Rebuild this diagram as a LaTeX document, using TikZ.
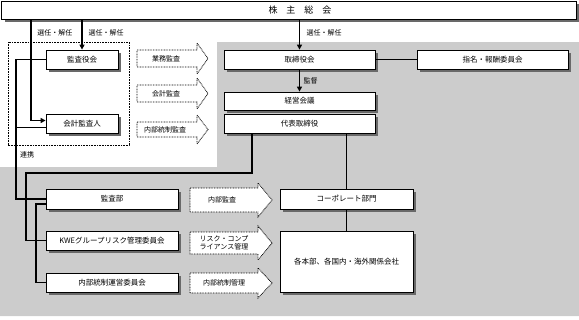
\documentclass[tikz,border=0pt]{standalone}
\usepackage{fontspec}
\setmainfont{Noto Sans CJK JP}
\usetikzlibrary{arrows.meta, shadows}
\definecolor{PanelGray}{RGB}{204,204,204}
\definecolor{ShadowGray}{RGB}{105,105,105}
% dotted block arrow: left x, head x, tip x, top y, bottom y, head extend
\newcommand{\blockarrow}[6]{%
  \draw[dotarr] (#1,#4) -- (#2,#4) -- (#2,#4-#6) -- (#3,{(#4+#5)/2})
    -- (#2,#5+#6) -- (#2,#5) -- (#1,#5) -- cycle;}

\begin{document}
\begin{tikzpicture}[x=1pt,y=-1pt,
    box/.style={draw=black,line width=0.8pt,fill=white,inner sep=1pt,
                font=\fontsize{7.5}{9}\selectfont,
                drop shadow={shadow xshift=3pt,shadow yshift=-3pt,
                             fill=ShadowGray,opacity=1}},
    ln/.style={line width=1.8pt},
    arr/.style={ln,-{Triangle[length=5pt,width=5pt]}},
    dotarr/.style={draw=black,dash pattern=on 0.8pt off 0.8pt,line width=0.8pt,fill=white},
    lbl/.style={font=\fontsize{7}{8.5}\selectfont}
  ]
  \useasboundingbox (0,0) rectangle (579,319);
  % Panels
  \fill[PanelGray] (217,42) -- (579,42) -- (579,316) -- (0,316)
    -- (0,167) -- (217,167) -- cycle;
  \draw[dash pattern=on 0.8pt off 0.8pt,line width=0.8pt] (8,42) rectangle (129,145);
  % Boxes
  \node[box,minimum width=575pt,minimum height=18pt,
        font=\fontsize{9}{11}\selectfont] (soukai) at (289,10)
        {\hspace{22pt}株\hspace{9pt}主\hspace{9pt}総\hspace{9pt}会};
  \node[box,minimum width=72pt,minimum height=19pt] (kansayakukai) at (82,59.5) {監査役会};
  \node[box,minimum width=72pt,minimum height=19pt] (kaikei) at (82,123.5) {会計監査人};
  \node[box,minimum width=151pt,minimum height=19pt] (torishimari) at (299.5,59.5) {取締役会};
  \node[box,minimum width=151pt,minimum height=19pt] (shimei) at (492.5,59.5) {指名・報酬委員会};
  \node[box,minimum width=151pt,minimum height=18pt] (keiei) at (299.5,101) {経営会議};
  \node[box,minimum width=151pt,minimum height=19pt] (daihyou) at (299.5,123.5) {代表取締役};
  \node[box,minimum width=132pt,minimum height=20pt] (kansabu) at (112,199) {監査部};
  \node[box,minimum width=132pt,minimum height=19pt] (kwe) at (112,240.5) {KWEグループリスク管理委員会};
  \node[box,minimum width=132pt,minimum height=19pt] (naibu) at (112,282.5) {内部統制運営委員会};
  \node[box,minimum width=133pt,minimum height=20pt] (corp) at (346.5,199) {コーポレート部門};
  \node[box,minimum width=133pt,minimum height=61pt] (kaku) at (346.5,261.5) {各本部、各国内・海外関係会社};
  % Dotted arrows
  \blockarrow{137}{197}{208}{50}{67}{7}
  \blockarrow{137}{197}{208}{85}{102}{7}
  \blockarrow{137}{197}{208}{122}{137}{7}
  \blockarrow{190}{258}{272}{188}{212}{5}
  \blockarrow{190}{258}{272}{232}{254}{6}
  \blockarrow{190}{258}{272}{273}{293}{5}
  \node[lbl] (gyoumu) at (166,58.5) {業務監査};
  \node[lbl] (kaikeikansa) at (166,93.5) {会計監査};
  \node[lbl] (naibukansa) at (165,129.5) {内部統制監査};
  \node[lbl] (naibu2) at (222,200) {内部監査};
  \node[lbl,align=left] (risk) at (224,243) {リスク・コンプ\\ライアンス管理};
  \node[lbl] (naibu3) at (224,283) {内部統制管理};
  % Connectors
  \coordinate (c1) at (252,173);
  \coordinate (c2) at (26,173);
  \draw[arr] (kansayakukai.north |- soukai.south) -- (kansayakukai.north);
  \draw[arr] ([xshift=-15pt]kaikei.west |- soukai.south) |- ([yshift=3pt]kaikei.west);
  \draw[arr] (torishimari.north |- soukai.south) -- (torishimari.north);
  \draw[arr] (torishimari) -- (keiei) node[lbl,midway,right] {監督};
  \draw[ln] (torishimari.east) -- (shimei.west);
  \draw[ln] (kansayakukai.west) -- ++(-30,0) |- (kansabu.west);
  \draw[ln] ([yshift=-4pt]kaikei.west) -- ++(-30,0);
  \draw[ln] (daihyou.south -| c1) -- (c1) -- (c2) |- (kwe.west);
  \draw[ln] ([yshift=-5pt]kansabu.west) -- ++(-10,0) |- (naibu.west);
  \draw[ln] (daihyou.south -| corp.north) -- (corp.north);
  \draw[ln] (corp) -- (kaku);
  % Labels
  \node[lbl] (senA) at (55,33) {選任・解任};
  \node[lbl] (senB) at (106,33) {選任・解任};
  \node[lbl] (senC) at (324,33) {選任・解任};
  \node[lbl] (renkei) at (27,155) {連携};
\end{tikzpicture}
\end{document}
